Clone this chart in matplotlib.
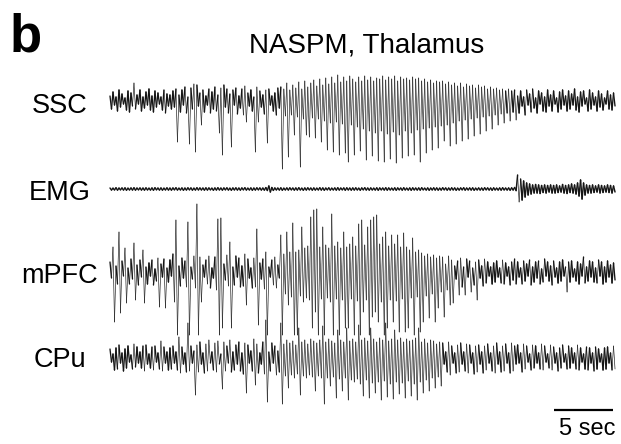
import numpy as np
import matplotlib
matplotlib.use("Agg")
import matplotlib.pyplot as plt
from matplotlib.collections import LineCollection

plt.rcParams['font.family'] = ['Liberation Sans', 'DejaVu Sans']

# ---------------- data (amplitude in arbitrary units, sampled every DT seconds) ----------------
DT = 0.254  # seconds between samples
trace_names = ["SSC", "EMG", "mPFC", "CPu"]
title = "NASPM, Thalamus"
panel_label = "b"
scale_bar_sec = 5
scale_label = "5 sec"

ssc_hi = [5,9,4,11,7,3,10,8,18,6,11,4,9,12,5,10,8,4,11,7,6,
          10,12,6,11,14,4,13,17,16,8,11,5,12,9,14,6,13,16,12,7,11,13,5,12,15,8,11,4,14,10,6,11,12,5,8,13,
          14,12,18,11,16,13,19,12,20,14,18,21,15,22,16,23,17,24,18,26,19,24,20,25,22,19,24,
          20,25,21,24,20,23,22,25,21,24,22,25,20,24,22,23,21,24,22,23,20,22,19,21,18,20,19,
          20,17,19,16,18,15,18,14,17,15,16,13,16,14,15,12,14,12,13,11,12,10,12,10,11,
          5,10,4,11,7,12,3,10,8,4,11,6,10,3,9,11,5,10,7,12,4,9,10,3,11,8,4,10,7,3,10,6,8]
ssc_lo = [-8,-4,-10,-6,-3,-9,-11,-5,-8,-3,-10,-7,-4,-9,-11,-6,-3,-9,-12,-5,-8,
          -6,-41,-11,-4,-12,-43,-8,-51,-5,-24,-11,-4,-12,-8,-10,-32,-54,-6,-12,-46,-4,-13,-7,-14,-21,-5,-10,-51,-21,-6,-13,-42,-4,-10,-14,-7,
          -68,-15,-56,-14,-34,-16,-66,-18,-34,-36,-17,-37,-18,-41,-20,-49,-22,-51,-21,-54,-23,-52,-61,-24,-54,-26,-50,
          -28,-59,-30,-55,-32,-60,-30,-61,-33,-58,-31,-62,-34,-57,-30,-55,-32,-54,-29,-61,-28,-52,-27,-49,-26,-47,-25,
          -40,-24,-45,-22,-43,-20,-40,-19,-38,-18,-35,-17,-33,-16,-30,-15,-28,-14,-24,-13,-22,-12,-20,-11,-19,
          -12,-5,-14,-4,-11,-7,-12,-3,-10,-11,-5,-10,-3,-11,-8,-4,-10,-8,-4,-9,-11,-5,-3,-10,-8,-4,-10,-6,-9,-3,-8,-9,-5]

emg_hi = [1,0.8,1.2,0.9,1,1.1,0.8,1,1.2,0.9,
          1,0.9,1.1,0.8,1,1.2,0.9,1,0.8,1.1,
          0.9,1,1.2,0.8,1,0.9,1.1,1,0.8,1.2,
          1,0.9,1.1,1,0.8,1,1.2,0.9,1,1.1,
          0.8,1,1.1,0.9,1,1.2,0.8,1,0.9,1.1,
          1,0.9,1.4,3,1.5,1,0.9,1.1,0.8,1,
          1.1,0.9,1,1.2,0.8,1,1.1,0.9,1,0.8,
          1.2,1,0.9,1.1,0.8,1,1.2,0.9,1,1.1,
          0.9,1,1.1,0.8,1,1.2,0.9,1,0.8,1.1,
          1,0.9,1.2,1,0.8,1.1,1,0.9,1.2,0.8,
          1,1.1,0.9,1,1.2,0.8,1,0.9,1.1,1,
          0.8,1.2,1,0.9,1.1,1,0.8,1,1.2,0.9,
          1,1.1,0.8,1,0.9,1.2,1,0.9,1.1,0.8,
          1,1.2,0.9,1,1.1,1.5,
          14,10,8,6,5,4,4.5,4,3.5,4,3.5,4,3.5,4,3,4.5,3.5,4,5,4,6,9,6,4,3.5,4,3,4,3.5,3,4,3.5,3]
emg_lo = [-1,-0.9,-1.1,-0.8,-1,-1.2,-0.9,-1,-1.1,-0.8,
          -1,-1.1,-0.9,-1,-1.2,-0.8,-1,-1.1,-0.9,-1,
          -1.1,-0.8,-1,-0.9,-1.2,-1,-0.8,-1.1,-1,-0.9,
          -0.9,-1.1,-1,-0.8,-1.2,-1,-0.9,-1.1,-0.8,-1,
          -1.2,-0.9,-1,-1.1,-0.8,-1,-0.9,-1.2,-1,-0.8,
          -1,-1.1,-1.5,-3,-1.4,-0.9,-1,-1.2,-0.9,-1,
          -0.8,-1.1,-1,-0.9,-1.2,-1,-0.8,-1.1,-1,-0.9,
          -1,-1.2,-0.8,-1,-0.9,-1.1,-1,-0.8,-1.2,-0.9,
          -1.1,-1,-0.9,-1.2,-0.8,-1,-1.1,-0.9,-1,-1.2,
          -0.8,-1,-1.1,-0.9,-1,-1.2,-0.8,-1.1,-0.9,-1,
          -1.2,-0.9,-1,-1.1,-0.8,-1,-1.2,-0.9,-1,-1.1,
          -1,-0.8,-1.1,-1,-0.9,-1.2,-1,-0.8,-1.1,-0.9,
          -1,-1.2,-0.9,-1,-1.1,-0.8,-1,-1.2,-0.9,-1,
          -1.1,-0.9,-1,-1.2,-1,-1.6,
          -13,-11,-8,-6,-5,-4,-4,-4.5,-3.5,-4,-3,-4,-4,-3.5,-3,-4,-4.5,-3.5,-4,-5,-7,-10,-6,-4,-4,-3.5,-3,-4,-3.5,-3,-3.5,-4,-3]

mpfc_hi = [10,25,6,40,11,24,4,13,29,7,12,22,5,9,12,3,14,8,13,4,12,
           18,52,6,14,11,50,5,16,68,15,7,12,16,4,15,53,54,8,17,30,5,16,14,6,18,13,4,14,43,9,13,20,5,12,15,7,
           37,18,40,20,49,20,22,45,24,26,55,62,63,25,45,27,24,58,26,30,24,40,25,28,35,26,48,
           52,27,45,52,55,57,28,35,40,26,37,28,37,25,39,25,22,34,20,22,19,16,18,15,17,14,16,
           15,8,16,12,6,11,14,5,13,11,4,10,12,6,13,10,5,9,11,4,12,9,5,10,13,
           10,4,11,8,12,5,10,11,3,13,10,6,11,4,10,12,5,10,11,3,10,8,15,5,11,10,4,12,10,5,11,7,9]
mpfc_lo = [-6,-50,-12,-41,-4,-31,-12,-7,-28,-13,-5,-31,-12,-4,-13,-9,-35,-5,-36,-10,-4,
           -30,-63,-14,-6,-15,-63,-7,-16,-63,-30,-5,-12,-16,-6,-18,-63,-56,-8,-14,-56,-13,-5,-15,-14,-33,-6,-16,-15,-53,-7,-17,-63,-5,-13,-16,-6,
           -63,-22,-33,-25,-63,-63,-24,-30,-26,-28,-56,-40,-63,-27,-63,-26,-30,-63,-27,-63,-28,-56,-56,-27,-63,-29,-63,
           -40,-28,-63,-45,-40,-50,-30,-63,-56,-28,-50,-29,-60,-27,-60,-56,-26,-63,-25,-60,-50,-24,-46,-22,-50,-36,-20,
           -45,-18,-33,-31,-7,-23,-15,-23,-5,-20,-13,-28,-6,-14,-11,-4,-12,-10,-5,-11,-12,-4,-13,-8,-12,
           -5,-12,-9,-4,-13,-10,-6,-12,-10,-4,-9,-13,-5,-11,-9,-4,-20,-10,-5,-9,-12,-4,-11,-9,-5,-10,-11,-4,-12,-10,-5,-11,-8]

cpu_hi = [9,4,10,13,5,9,12,3,14,11,6,12,13,4,11,12,5,17,11,6,10,
          12,6,21,11,5,35,12,7,13,16,5,14,18,6,15,17,4,16,12,18,6,13,16,5,15,13,7,19,14,5,16,38,6,15,12,7,
          35,14,18,15,17,13,30,16,18,14,19,17,15,18,32,16,19,17,15,28,18,16,30,17,19,16,33,
          18,20,17,30,19,16,20,18,35,17,19,28,18,20,16,19,17,18,20,30,16,19,15,18,17,14,16,
          15,6,16,12,5,13,15,6,14,13,5,12,13,6,12,14,5,12,15,6,12,14,5,15,12,
          13,5,14,12,4,13,12,5,14,12,4,13,11,5,10,13,4,12,10,5,13,10,4,11,10,5,11,9,4,10,11,5,12]
cpu_lo = [-4,-12,-11,-5,-13,-10,-4,-11,-9,-5,-10,-13,-6,-10,-12,-4,-11,-13,-5,-12,-11,
          -5,-12,-15,-6,-14,-13,-5,-37,-14,-6,-15,-13,-5,-12,-14,-6,-31,-13,-5,-14,-12,-6,-13,-16,-35,-5,-13,-27,-15,-6,-16,-44,-13,-5,-17,-14,
          -46,-18,-30,-17,-20,-16,-37,-18,-20,-17,-19,-33,-18,-20,-46,-20,-28,-19,-40,-21,-33,-20,-42,-22,-24,-21,-26,
          -38,-22,-40,-25,-35,-24,-42,-23,-39,-26,-41,-24,-36,-25,-40,-23,-38,-26,-42,-24,-35,-22,-33,-20,-30,-19,-28,
          -6,-14,-17,-5,-15,-14,-6,-13,-15,-5,-16,-14,-6,-15,-12,-5,-13,-15,-6,-14,-13,-5,-15,-13,-6,
          -5,-14,-11,-4,-12,-10,-5,-11,-12,-4,-10,-12,-5,-13,-10,-4,-11,-10,-5,-11,-12,-4,-11,-12,-5,-13,-11,-4,-12,-11,-5,-12,-11]

# ---------------- layout / style ----------------
W, H = 621, 444
PPS = 11.8            # pixels per second
X0 = 110              # pixel where traces start
baselines = [101, 189, 272, 358]   # pixel rows of trace baselines
label_baselines = [113, 200, 283, 367]
dense_lw = [0.95, 1.05, 0.95, 0.95]  # line width for small, dense excursions
sparse_lw = 0.45                     # line width for the big single spikes
sparse_from = 22                     # excursion size (px) treated as a single spike

fig = plt.figure(figsize=(W / 100, H / 100), dpi=100)
ax = fig.add_axes([0, 0, 1, 1])
ax.set_xlim(-X0 / PPS, (W - X0) / PPS)
ax.set_ylim(H, 0)
ax.axis("off")

series = [(ssc_hi, ssc_lo), (emg_hi, emg_lo), (mpfc_hi, mpfc_lo), (cpu_hi, cpu_lo)]
for (hi, lo), base, dlw in zip(series, baselines, dense_lw):
    hi = np.asarray(hi, float)
    lo = np.asarray(lo, float)
    n = min(len(hi), len(lo))
    hi, lo = hi[:n], lo[:n]
    t = np.arange(n) * DT
    x = np.empty(2 * n)
    y = np.empty(2 * n)
    x[0::2] = t
    x[1::2] = t + DT / 2
    y[0::2] = base - hi
    y[1::2] = base - lo
    pts = np.column_stack([x, y])
    segs = np.stack([pts[:-1], pts[1:]], axis=1)
    extent = np.abs(np.diff(y))
    widths = np.where(extent > sparse_from, sparse_lw, dlw)
    lc = LineCollection(segs, linewidths=widths, colors="#151515",
                        capstyle="round", antialiaseds=True)
    ax.add_collection(lc)

for name, yb in zip(trace_names, label_baselines):
    fig.text(60 / W, 1 - yb / H, name, ha="center", va="baseline", fontsize=19.5)

fig.text(367 / W, 1 - 52 / H, title, ha="center", va="baseline", fontsize=20)
fig.text(10 / W, 1 - 51 / H, panel_label, ha="left", va="baseline", fontsize=38, fontweight="bold")

# scale bar
sb_start = (554 - X0) / PPS
ax.plot([sb_start, sb_start + scale_bar_sec], [410, 410], color="black", lw=1.6, solid_capstyle="butt")
fig.text(587 / W, 1 - 435 / H, scale_label, ha="center", va="baseline", fontsize=17)

fig.savefig("out.png", dpi=100)
